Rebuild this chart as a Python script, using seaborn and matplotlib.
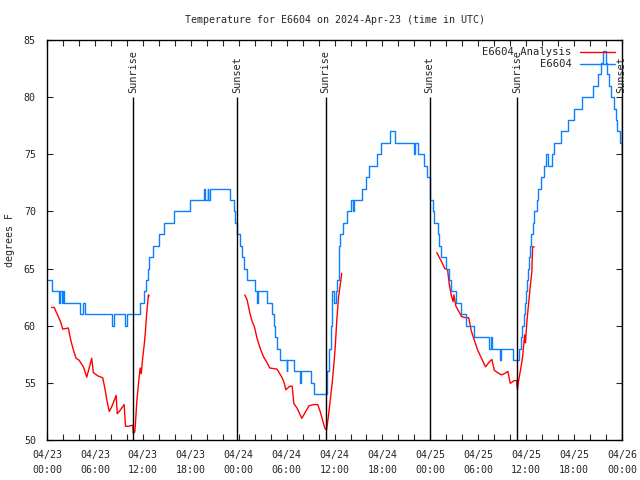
import numpy as np
import pandas as pd
import matplotlib
matplotlib.use('Agg')
import matplotlib.pyplot as plt
import seaborn as sns

# hours since 2024-04-23 00:00 UTC, step change points of the observed series
obs_hours = [0.17, 0.6, 1.55, 1.65, 1.85, 1.95, 2.1, 4.1, 4.55, 4.7, 8.1, 8.35,
             9.8, 10.0, 11.6, 12.1, 12.4, 12.6, 12.8, 13.3, 14.0, 14.7, 15.9,
             17.9, 19.7, 19.8, 20.1, 20.2, 20.4, 22.9, 23.4, 23.6, 23.8, 24.2,
             24.4, 24.7, 25.0, 26.0, 26.3, 26.4, 27.6, 28.2, 28.4, 28.6, 28.8,
             29.2, 30.0, 30.1, 30.9, 31.7, 31.8, 33.0, 33.4, 35.1, 35.3, 35.5,
             35.7, 35.9, 36.2, 36.3, 36.5, 36.7, 37.0, 37.5, 38.1, 38.3, 38.4,
             39.5, 39.9, 40.3, 41.3, 41.8, 42.9, 43.6, 45.9, 46.1, 46.5, 47.2,
             47.6, 47.9, 48.0, 48.3, 48.5, 48.9, 49.1, 49.3, 49.9, 50.3, 50.6,
             51.2, 51.8, 52.4, 53.4, 55.4, 55.6, 55.7, 56.7, 56.8, 58.3, 59.1,
             59.3, 59.5, 59.7, 59.8, 60.0, 60.1, 60.25, 60.4, 60.5, 60.6, 60.8,
             61.0, 61.3, 61.5, 61.8, 62.2, 62.5, 62.7, 63.2, 63.5, 64.3, 65.2,
             66.0, 67.0, 68.3, 69.0, 69.4, 69.6, 70.0, 70.1, 70.3, 70.6, 71.0,
             71.2, 71.4, 71.8, 71.95]
obs_temp = [64, 63, 62, 63, 62, 63, 62, 61, 62, 61, 60, 61,
            60, 61, 62, 63, 64, 65, 66, 67, 68, 69, 70,
            71, 72, 71, 72, 71, 72, 71, 70, 69, 68, 67,
            66, 65, 64, 63, 62, 63, 62, 61, 60, 59, 58,
            57, 56, 57, 56, 55, 56, 55, 54, 56, 58, 60,
            63, 62, 63, 64, 67, 68, 69, 70, 71, 70, 71,
            72, 73, 74, 75, 76, 77, 76, 75, 76, 75, 74,
            73, 72, 71, 70, 69, 68, 67, 66, 65, 64, 63,
            62, 61, 60, 59, 58, 59, 58, 57, 58, 57, 58,
            59, 60, 61, 62, 63, 64, 65, 66, 67, 68, 69,
            70, 71, 72, 73, 74, 75, 74, 75, 76, 77, 78,
            79, 80, 81, 82, 83, 84, 83, 82, 81, 80, 79,
            78, 77, 76, 75]

# analysis runs
ana1_hours = [0.58, 0.9, 1.42, 1.7, 1.97, 2.67, 2.97, 3.3, 3.64, 4.0, 4.56, 4.98,
              5.6, 5.8, 6.4, 6.98, 7.28, 7.49, 7.8, 8.1, 8.66, 8.8, 9.16, 9.66,
              9.83, 10.2, 10.75, 10.8, 11.0, 11.1, 11.25, 11.5, 11.67, 11.8, 12.0,
              12.17, 12.3, 12.5, 12.7, 12.8]
ana1_temp = [61.6, 61.6, 60.8, 60.35, 59.7, 59.8, 58.75, 57.9, 57.15, 57.0, 56.4, 55.5,
             57.15, 55.9, 55.6, 55.45, 54.4, 53.5, 52.5, 52.9, 53.9, 52.3, 52.6, 53.1,
             51.2, 51.2, 51.3, 50.6, 50.7, 51.75, 53.4, 55.25, 56.3, 55.8, 57.3,
             58.3, 59.3, 61.2, 62.7, 62.6]
ana2_hours = [24.76, 25.06, 25.4, 25.7, 25.97, 26.3, 26.7, 27.1, 27.6, 27.9, 28.8, 29.4,
              29.7, 29.9, 30.4, 30.7, 30.9, 31.3, 31.9, 32.4, 32.8, 33.4, 33.9, 34.2,
              34.5, 34.8, 35.0, 35.2, 35.4, 35.7, 35.95, 36.1, 36.3, 36.5, 36.8, 36.9]
ana2_temp = [62.7, 62.25, 61.1, 60.35, 59.9, 58.9, 58.0, 57.3, 56.7, 56.3, 56.2, 55.5,
             55.0, 54.4, 54.7, 54.7, 53.2, 52.8, 51.9, 52.5, 53.0, 53.1, 53.1, 52.5,
             51.75, 51.0, 50.9, 51.9, 53.1, 54.96, 56.85, 58.3, 60.65, 62.5, 64.0, 64.6]
ana3_hours = [48.8, 49.1, 49.4, 49.8, 50.15, 50.35, 50.6, 50.85, 50.95, 51.2, 51.6, 51.9,
              52.4, 52.8, 53.1, 53.5, 53.9, 54.4, 54.9, 55.4, 55.7, 56.0, 56.4, 56.9,
              57.25, 57.7, 58.0, 58.5, 58.8, 58.9, 59.0, 59.35, 59.55, 59.8, 59.9, 60.1,
              60.3, 60.5, 60.7, 60.8, 61.0]
ana3_temp = [66.4, 66.0, 65.6, 65.0, 64.9, 63.7, 62.7, 62.1, 62.7, 61.7, 61.2, 60.8,
             60.7, 60.7, 59.6, 58.75, 57.9, 57.15, 56.4, 56.85, 57.05, 56.1, 55.9, 55.7,
             55.8, 56.0, 54.96, 55.2, 55.2, 54.4, 55.0, 56.4, 57.3, 59.2, 58.5, 60.5,
             61.96, 63.4, 64.7, 66.9, 66.9]

sun_hours = [10.8, 23.8, 34.9, 47.9, 58.85, 71.95]
sun_labels = ['Sunrise', 'Sunset', 'Sunrise', 'Sunset', 'Sunrise', 'Sunset']

tick_hours = list(range(0, 73, 6))
tick_labels = ['04/23\n00:00', '04/23\n06:00', '04/23\n12:00', '04/23\n18:00',
               '04/24\n00:00', '04/24\n06:00', '04/24\n12:00', '04/24\n18:00',
               '04/25\n00:00', '04/25\n06:00', '04/25\n12:00', '04/25\n18:00',
               '04/26\n00:00']

sns.set_style('ticks')
plt.rcParams['font.family'] = ['DejaVu Sans Mono']
plt.rcParams['font.size'] = 7.2

obs = pd.DataFrame({'hour': obs_hours, 'temp': obs_temp})
ana = pd.concat([
    pd.DataFrame({'hour': ana1_hours, 'temp': ana1_temp, 'run': 1}),
    pd.DataFrame({'hour': ana2_hours, 'temp': ana2_temp, 'run': 2}),
    pd.DataFrame({'hour': ana3_hours, 'temp': ana3_temp, 'run': 3}),
])

fig = plt.figure(figsize=(6.4, 4.8), dpi=100)
ax = fig.add_axes([0.0734, 0.0833, 0.8986, 0.8334])

sns.lineplot(data=ana, x='hour', y='temp', units='run', estimator=None,
             color='#ff0000', lw=1, ax=ax, legend=False)
sns.lineplot(data=obs, x='hour', y='temp', drawstyle='steps-post',
             color='#0a80ff', lw=1, ax=ax, legend=False)

ax.vlines(sun_hours, 50, 80, color='black', lw=1)
for h, s in zip(sun_hours, sun_labels):
    ax.text(h, 80.4, s, rotation=90, ha='center', va='bottom', fontsize=7.4)

ax.set_xlim(0, 72)
ax.set_ylim(50, 85)
ax.set_xticks(tick_hours)
ax.set_xticklabels(tick_labels, linespacing=1.6)
ax.set_xticks(np.arange(0, 73, 2), minor=True)
ax.set_yticks(range(50, 86, 5))
ax.tick_params(which='both', direction='in', top=True, right=True, length=4, width=0.8)
ax.tick_params(axis='x', pad=7)
ax.tick_params(axis='y', pad=8)
for sp in ax.spines.values():
    sp.set_linewidth(1)
    sp.set_color('black')

ax.set_xlabel('')
ax.set_ylabel('degrees F')
ax.yaxis.set_label_coords(-0.055, 0.5)
ax.set_title('Temperature for E6604 on 2024-Apr-23 (time in UTC)', fontsize=7.2, pad=12)
ax.legend([ax.lines[0], ax.lines[3]], ['E6604 Analysis', 'E6604'],
          loc='upper right', frameon=False, markerfirst=False, handlelength=3.3,
          borderaxespad=0.3, labelspacing=0.2, handletextpad=0.8, fontsize=7.6)

fig.savefig('out.png', dpi=100)
